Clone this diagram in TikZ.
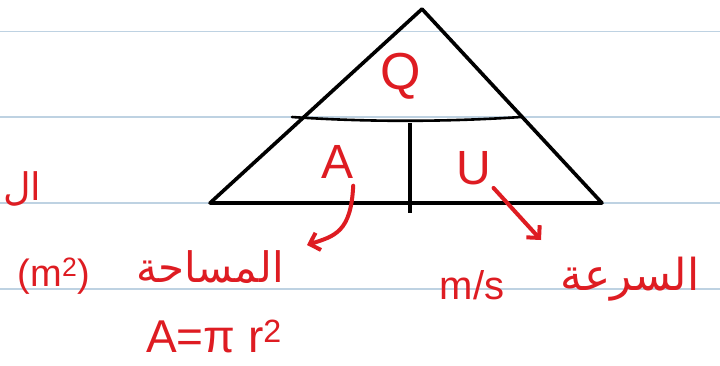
\documentclass[tikz,border=0pt]{standalone}
\usepackage{fontspec}
\setmainfont{Liberation Sans}
\newfontfamily\arabicfont[Script=Arabic]{DejaVu Sans}
\TeXXeTstate=1
\usepackage{tikz}
\usetikzlibrary{arrows.meta}
\definecolor{inkred}{RGB}{222,28,34}
\definecolor{ruled}{RGB}{190,210,226}
\tikzset{
  ink/.style={text=inkred,inner sep=0pt,font=\fontsize{#1}{#1}\selectfont},
  inkarrow/.style={draw=inkred,line width=4pt,line cap=round,
    -{Straight Barb[length=9pt,width=18pt,line width=4pt]}},
  pen/.style={line width=3.6pt,line join=round,line cap=round}
}
\newcommand{\paperline}[1]{\draw[ruled,line width=1.3pt] (0,#1) -- (720,#1);}

\begin{document}
\begin{tikzpicture}[x=1pt,y=-1pt]
    \useasboundingbox[fill=white] (0,0) rectangle (720,365);
    \paperline{31.5} \paperline{117} \paperline{203} \paperline{289}
    % triangle
    \draw[pen] (422,9) -- (602,203) -- (210,203) -- cycle;
    \draw[line width=2.6pt,line cap=round] (292,117) .. controls (380,123) and (460,121) .. (521,117);
    \draw[line width=4pt] (410,123) -- (410,213);
    % letters
    \node[ink=52] (Q) at (401,76) {Q};
    \node[ink=48] (A) at (338,162) {A};
    \node[ink=48] (U) at (474,168) {U};
    \coordinate (areaTip) at (307,245);
    \coordinate (speedTip) at (541,240);
    \draw[inkarrow] ([xshift=-1pt,yshift=-7pt]A.south east) .. controls (351,232) and (335,236) .. (areaTip);
    \draw[inkarrow] ([xshift=2pt,yshift=-3pt]U.south east) -- (speedTip);
    % labels
    \node[ink=42,anchor=base] (area) at (210,282) {\arabicfont\beginR المساحة\endR};
    \node[ink=38,anchor=base] (areaunit) at (54,286) {(m\textsuperscript{2})};
    \node[ink=44,anchor=base] (speed) at (630,290) {\arabicfont\beginR السرعة\endR};
    \node[ink=40,anchor=base] (speedunit) at (472,299) {m/s};
    \node[ink=46,anchor=base] (formula) at (214,352) {A=π r\textsuperscript{2}};
    \node[ink=38,anchor=base west] (cut) at (3,200) {\arabicfont\beginR ال\endR};
  \end{tikzpicture}
\end{document}
